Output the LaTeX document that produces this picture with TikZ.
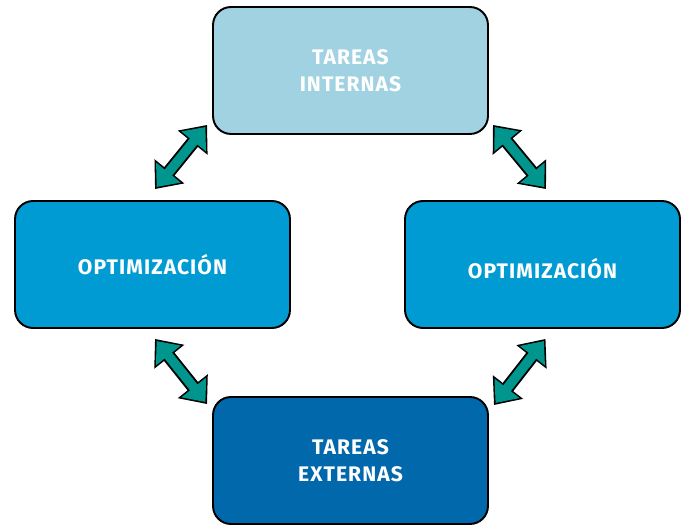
\documentclass[tikz,border=0pt]{standalone}
\usepackage{fontspec}
\setmainfont{Fira Sans}[LetterSpace=5]
\usetikzlibrary{positioning, arrows.meta, calc}
\definecolor{internas-color}{RGB}{161,210,226}
\definecolor{optim-color}{RGB}{0,155,211}
\definecolor{externas-color}{RGB}{0,104,171}
\definecolor{flecha-color}{RGB}{0,150,142}

\begin{document}
\begin{tikzpicture}[x=0.02cm, y=-0.02cm,
    tarea/.style={rectangle, draw=black, line width=1.1pt, rounded corners=0.36cm, minimum width=5.5cm, minimum height=2.54cm, align=center, text=white, font=\bfseries\fontsize{12}{15.4}\selectfont},
    flechafondo/.style={draw=black, line width=7.6pt, {Triangle[length=13pt, width=21pt]}-{Triangle[length=13pt, width=21pt]}},
    flecha/.style={draw=flecha-color, line width=5.4pt, shorten <=1.5pt, shorten >=1.5pt, {Triangle[length=10.6pt, width=17.4pt]}-{Triangle[length=10.6pt, width=17.4pt]}}]
    \useasboundingbox (0,0) rectangle (686,526);

    % Boxes
    \node[tarea, fill=internas-color] (internas) at (350.5,70.5) {TAREAS\\INTERNAS};
    \node[tarea, fill=optim-color] (optizq) at (152.5,264.5) {OPTIMIZACIÓN};
    \node[tarea, fill=optim-color, text height=0.55cm, text depth=0cm] (optder) at (542.5,264.5) {OPTIMIZACIÓN};
    \node[tarea, fill=externas-color] (externas) at (350.5,460.5) {TAREAS\\EXTERNAS};

    % Arrow ends
    \coordinate (a1) at ($(optizq.north)+(2.5,-11)$);
    \coordinate (b1) at ($(internas.south west)+(-5,-10)$);
    \coordinate (a2) at ($(internas.south east)+(4,-10)$);
    \coordinate (b2) at ($(optder.north)+(3.5,-11)$);
    \coordinate (a3) at ($(optizq.south)+(2.5,10)$);
    \coordinate (b3) at ($(externas.north west)+(-5,8)$);
    \coordinate (a4) at ($(optder.south)+(3,10)$);
    \coordinate (b4) at ($(externas.north east)+(5,9)$);

    % Arrows
    \foreach \p/\q in {a1/b1, a2/b2, a3/b3, a4/b4} {
        \draw[flechafondo] (\p) -- (\q);
        \draw[flecha] (\p) -- (\q);
    }
\end{tikzpicture}
\end{document}
